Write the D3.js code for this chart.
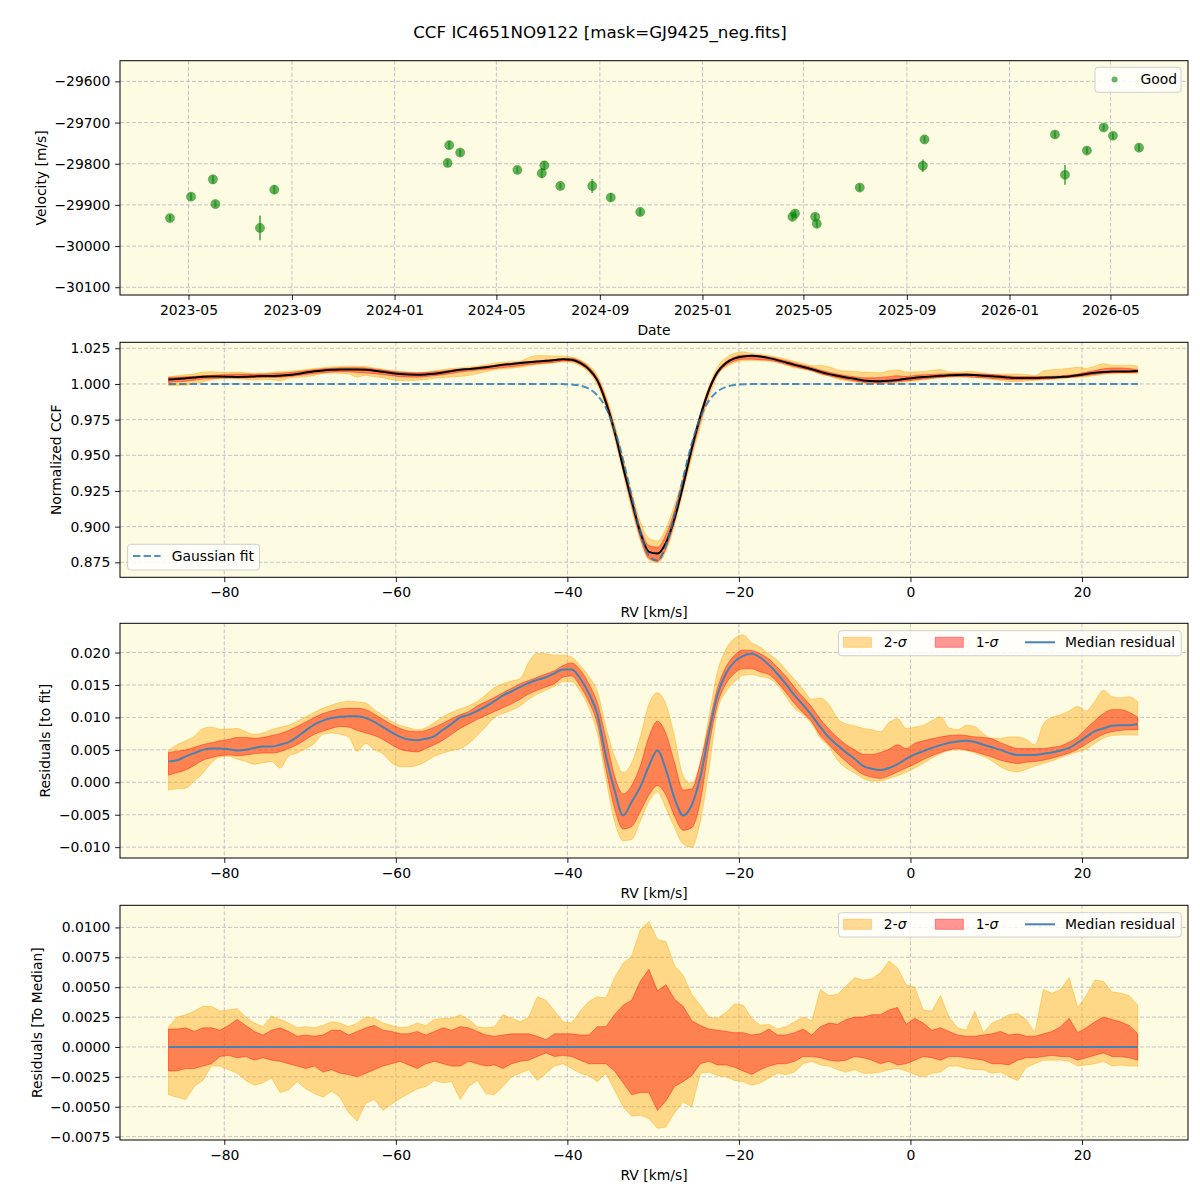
<!DOCTYPE html>
<html><head><meta charset="utf-8">
<script src="https://cdn.jsdelivr.net/npm/d3@7"></script>
<style>
body{margin:0;background:#fff;}
text{font-family:"DejaVu Sans",sans-serif;}
</style></head>
<body><svg id="c" width="1200" height="1200"></svg>
<script>
// ---------------- DATA ----------------
const obsDates = ["2023-04-09","2023-05-04","2023-05-30","2023-06-02","2023-07-25","2023-08-11",
  "2024-03-04","2024-03-06","2024-03-19","2024-05-26","2024-06-24","2024-06-27","2024-07-16",
  "2024-08-23","2024-09-14","2024-10-19","2025-04-18","2025-04-21","2025-05-15","2025-05-17",
  "2025-07-07","2025-09-20","2025-09-22","2026-02-24","2026-03-08","2026-04-03","2026-04-23",
  "2026-05-04","2026-06-04"];
const obsVel = [-29932,-29880,-29838,-29898,-29956,-29863,-29798,-29755,-29773,-29815,-29823,-29804,
  -29854,-29854,-29882,-29917,-29929,-29921,-29929,-29946,-29858,-29805,-29741,-29729,-29827,
  -29768,-29712,-29732,-29761];
const obsErr = [8,8,10,8,30,10,9,10,8,8,12,10,8,17,10,8,8,8,8,8,8,15,8,8,24,8,8,8,8];

const dateTicks = ["2023-05-01","2023-09-01","2024-01-01","2024-05-01","2024-09-01","2025-01-01",
  "2025-05-01","2025-09-01","2026-01-01","2026-05-01"];
const velTicks = [-30100,-30000,-29900,-29800,-29700,-29600];
const rvTicks = [-80,-60,-40,-20,0,20];
const ccfTicks = [0.875,0.900,0.925,0.950,0.975,1.000,1.025];
const resTicks = [-0.010,-0.005,0.000,0.005,0.010,0.015,0.020];
const medTicks = [-0.0075,-0.0050,-0.0025,0.0000,0.0025,0.0050,0.0075,0.0100];

const rv = [
-86.5,-85.5,-84.5,-83.5,-82.5,-81.5,-80.5,-79.5,-78.5,-77.5,
-76.5,-75.5,-74.5,-73.5,-72.5,-71.5,-70.5,-69.5,-68.5,-67.5,
-66.5,-65.5,-64.5,-63.5,-62.5,-61.5,-60.5,-59.5,-58.5,-57.5,
-56.5,-55.5,-54.5,-53.5,-52.5,-51.5,-50.5,-49.5,-48.5,-47.5,
-46.5,-45.5,-44.5,-43.5,-42.5,-41.5,-40.5,-39.5,-38.5,-37.5,
-36.5,-35.5,-34.5,-33.5,-32.5,-31.5,-30.5,-29.5,-28.5,-27.5,
-26.5,-25.5,-24.5,-23.5,-22.5,-21.5,-20.5,-19.5,-18.5,-17.5,
-16.5,-15.5,-14.5,-13.5,-12.5,-11.5,-10.5,-9.5,-8.5,-7.5,
-6.5,-5.5,-4.5,-3.5,-2.5,-1.5,-0.5,0.5,1.5,2.5,
3.5,4.5,5.5,6.5,7.5,8.5,9.5,10.5,11.5,12.5,
13.5,14.5,15.5,16.5,17.5,18.5,19.5,20.5,21.5,22.5,
23.5,24.5,25.5,26.5];

const gaussFit = [
1,1,1,1,1,1,1,1,1,1,
1,1,1,1,1,1,1,1,1,1,
1,1,1,1,1,1,1,1,1,1,
1,1,1,1,1,1,1,1,1,1,
1,1,1,1,1,1,.9999,.9996,.9988,.9967,
.9920,.9831,.9681,.9467,.9212,.8967,.8798,.8762,.8869,.9084,
.9342,.9582,.9764,.9882,.9948,.9979,.9993,.9998,.9999,1,
1,1,1,1,1,1,1,1,1,1,
1,1,1,1,1,1,1,1,1,1,
1,1,1,1,1,1,1,1,1,1,
1,1,1,1,1,1,1,1,1,1,
1,1,1,1];

const resMed = [
.0032,.0034,.0040,.0045,.0050,.0052,.0052,.0051,.0049,.0050,
.0053,.0055,.0055,.0058,.0062,.0070,.0080,.0089,.0095,.0099,
.0101,.0102,.0102,.0099,.0093,.0085,.0077,.0070,.0066,.0065,
.0067,.0071,.0081,.0090,.0100,.0104,.0110,.0117,.0125,.0134,
.0140,.0147,.0153,.0158,.0162,.0168,.0174,.0174,.0160,.0137,
.0105,.0040,-.0012,-.0051,-.0030,-.0007,.0025,.0049,.0019,-.0025,
-.0051,-.0035,.0008,.0075,.0135,.0168,.0186,.0195,.0198,.0192,
.0181,.0167,.0151,.0134,.0119,.0103,.0085,.0069,.0057,.0046,
.0036,.0025,.0021,.0019,.0022,.0028,.0036,.0043,.0048,.0053,
.0057,.0061,.0063,.0064,.0062,.0058,.0054,.0050,.0045,.0042,
.0042,.0042,.0044,.0046,.0049,.0053,.0061,.0070,.0079,.0083,
.0087,.0088,.0088,.0090];

const res1Hi = [
.0046,.0048,.0050,.0054,.0058,.0061,.0064,.0066,.0069,.0069,
.0068,.0069,.0072,.0075,.0080,.0086,.0093,.0100,.0106,.0110,
.0113,.0114,.0114,.0112,.0105,.0097,.0089,.0083,.0079,.0078,
.0080,.0085,.0091,.0098,.0104,.0109,.0118,.0124,.0131,.0138,
.0145,.0152,.0157,.0162,.0167,.0172,.0180,.0184,.0173,.0152,
.0122,.0068,.0010,-.0018,-.0005,.0025,.0070,.0094,.0075,.0030,
-.0012,-.0010,.0030,.0088,.0145,.0178,.0196,.0204,.0203,.0198,
.0190,.0177,.0163,.0146,.0131,.0116,.0097,.0082,.0069,.0058,
.0050,.0043,.0043,.0046,.0051,.0058,.0052,.0060,.0064,.0067,
.0070,.0072,.0073,.0072,.0070,.0069,.0067,.0061,.0056,.0052,
.0052,.0052,.0052,.0054,.0056,.0062,.0070,.0083,.0095,.0106,
.0112,.0112,.0108,.0100];

const res1Lo = [
.0011,.0015,.0019,.0026,.0034,.0038,.0041,.0042,.0041,.0042,
.0044,.0045,.0045,.0047,.0052,.0058,.0066,.0074,.0079,.0083,
.0086,.0085,.0080,.0076,.0072,.0066,.0058,.0051,.0048,.0047,
.0052,.0058,.0065,.0074,.0083,.0090,.0097,.0103,.0109,.0115,
.0121,.0128,.0136,.0142,.0147,.0152,.0162,.0164,.0148,.0124,
.0090,.0020,-.0040,-.0072,-.0068,-.0045,-.0020,-.0005,-.0020,-.0052,
-.0074,-.0070,-.0030,.0055,.0120,.0152,.0168,.0175,.0175,.0170,
.0166,.0154,.0138,.0121,.0107,.0093,.0072,.0058,.0044,.0032,
.0021,.0012,.0008,.0006,.0010,.0016,.0022,.0028,.0035,.0041,
.0046,.0050,.0052,.0050,.0047,.0043,.0039,.0034,.0031,.0029,
.0031,.0032,.0034,.0037,.0041,.0045,.0051,.0059,.0067,.0074,
.0078,.0080,.0081,.0081];

const res2Hi = [
.0049,.0058,.0064,.0071,.0083,.0085,.0082,.0082,.0083,.0078,
.0074,.0076,.0081,.0085,.0088,.0094,.0101,.0108,.0114,.0119,
.0123,.0125,.0124,.0122,.0112,.0103,.0094,.0088,.0084,.0081,
.0084,.0092,.0101,.0108,.0113,.0118,.0125,.0135,.0146,.0152,
.0156,.0160,.0185,.0199,.0198,.0196,.0196,.0193,.0180,.0163,
.0140,.0085,.0040,.0015,.0030,.0070,.0120,.0138,.0120,.0070,
.0010,-.0002,.0030,.0100,.0170,.0205,.0222,.0227,.0215,.0208,
.0198,.0188,.0173,.0158,.0143,.0128,.0130,.0120,.0098,.0090,
.0087,.0083,.0081,.0078,.0092,.0098,.0083,.0085,.0088,.0095,
.0101,.0084,.0081,.0088,.0086,.0075,.0068,.0068,.0070,.0070,
.0066,.0058,.0090,.0100,.0104,.0110,.0117,.0110,.0125,.0142,
.0132,.0130,.0132,.0124];

const res2Lo = [
-.0012,-.0010,-.0009,.0002,.0014,.0030,.0039,.0040,.0036,.0032,
.0028,.0030,.0032,.0022,.0040,.0045,.0052,.0060,.0074,.0076,
.0074,.0070,.0048,.0060,.0050,.0044,.0030,.0024,.0024,.0026,
.0032,.0040,.0045,.0049,.0052,.0060,.0072,.0086,.0100,.0106,
.0111,.0118,.0128,.0136,.0142,.0148,.0155,.0155,.0140,.0115,
.0075,.0005,-.0060,-.0090,-.0088,-.0060,-.0030,-.0015,-.0040,-.0070,
-.0095,-.0100,-.0060,.0020,.0110,.0140,.0155,.0165,.0166,.0163,
.0160,.0150,.0132,.0114,.0104,.0090,.0068,.0055,.0034,.0022,
.0014,.0006,.0002,.0002,.0006,.0010,.0015,.0022,.0029,.0037,
.0044,.0049,.0050,.0049,.0045,.0040,.0033,.0024,.0018,.0016,
.0020,.0025,.0029,.0033,.0038,.0043,.0047,.0051,.0060,.0068,
.0072,.0073,.0073,.0073];

const dev2Hi = [
.0017,.0025,.0027,.0030,.0034,.0034,.0030,.0031,.0032,.0025,
.0020,.0017,.0026,.0023,.0020,.0016,.0017,.0016,.0018,.0021,
.0020,.0017,.0020,.0025,.0024,.0020,.0018,.0016,.0017,.0020,
.0018,.0023,.0024,.0024,.0027,.0023,.0017,.0016,.0017,.0027,
.0024,.0021,.0025,.0042,.0039,.0030,.0021,.0020,.0030,.0038,
.0042,.0041,.0058,.0070,.0076,.0098,.0105,.0090,.0088,.0068,
.0060,.0044,.0035,.0025,.0024,.0029,.0036,.0035,.0024,.0018,
.0019,.0015,.0017,.0021,.0025,.0022,.0048,.0043,.0044,.0051,
.0058,.0056,.0057,.0062,.0072,.0066,.0052,.0050,.0031,.0030,
.0043,.0025,.0016,.0014,.0030,.0012,.0020,.0023,.0027,.0028,
.0023,.0012,.0048,.0045,.0048,.0058,.0033,.0043,.0056,.0055,
.0046,.0045,.0043,.0035];

const dev1Hi = [
.0015,.0015,.0016,.0013,.0016,.0016,.0014,.0018,.0023,.0018,
.0013,.0010,.0014,.0016,.0013,.0009,.0010,.0009,.0010,.0014,
.0014,.0010,.0013,.0016,.0018,.0014,.0013,.0011,.0011,.0013,
.0010,.0013,.0016,.0014,.0017,.0016,.0013,.0010,.0009,.0010,
.0011,.0011,.0011,.0009,.0006,.0011,.0011,.0011,.0010,.0010,
.0017,.0017,.0027,.0035,.0039,.0055,.0065,.0047,.0052,.0040,
.0034,.0022,.0018,.0015,.0014,.0013,.0012,.0012,.0010,.0011,
.0015,.0010,.0010,.0012,.0015,.0010,.0017,.0020,.0019,.0023,
.0025,.0025,.0027,.0027,.0031,.0033,.0019,.0024,.0020,.0014,
.0016,.0013,.0010,.0009,.0009,.0010,.0011,.0013,.0010,.0011,
.0009,.0009,.0011,.0013,.0017,.0024,.0012,.0016,.0021,.0025,
.0023,.0021,.0018,.0011];

const dev1Lo = [
-.0020,-.0020,-.0018,-.0018,-.0016,-.0014,-.0008,-.0007,-.0009,-.0008,
-.0011,-.0009,-.0011,-.0012,-.0014,-.0016,-.0018,-.0016,-.0021,-.0019,
-.0022,-.0023,-.0025,-.0022,-.0019,-.0016,-.0014,-.0012,-.0015,-.0018,
-.0014,-.0012,-.0014,-.0016,-.0016,-.0012,-.0014,-.0016,-.0015,-.0018,
-.0014,-.0012,-.0011,-.0008,-.0005,-.0008,-.0007,-.0008,-.0011,-.0014,
-.0014,-.0014,-.0020,-.0030,-.0040,-.0038,-.0038,-.0053,-.0045,-.0033,
-.0029,-.0024,-.0014,-.0012,-.0015,-.0015,-.0017,-.0020,-.0023,-.0019,
-.0016,-.0014,-.0014,-.0012,-.0008,-.0008,-.0009,-.0011,-.0012,-.0011,
-.0008,-.0009,-.0011,-.0014,-.0012,-.0015,-.0014,-.0011,-.0008,-.0009,
-.0011,-.0008,-.0008,-.0009,-.0010,-.0011,-.0014,-.0014,-.0015,-.0011,
-.0009,-.0009,-.0008,-.0007,-.0008,-.0008,-.0011,-.0009,-.0007,-.0005,
-.0008,-.0008,-.0009,-.0011];

const dev2Lo = [
-.0040,-.0042,-.0044,-.0033,-.0028,-.0016,-.0016,-.0019,-.0022,-.0028,
-.0032,-.0030,-.0026,-.0038,-.0036,-.0029,-.0035,-.0039,-.0042,-.0037,
-.0042,-.0055,-.0062,-.0047,-.0044,-.0053,-.0048,-.0043,-.0039,-.0035,
-.0033,-.0028,-.0030,-.0029,-.0044,-.0033,-.0028,-.0039,-.0040,-.0033,
-.0025,-.0022,-.0019,-.0028,-.0022,-.0016,-.0014,-.0018,-.0022,-.0024,
-.0029,-.0022,-.0036,-.0050,-.0058,-.0057,-.0060,-.0068,-.0067,-.0055,
-.0046,-.0050,-.0022,-.0021,-.0024,-.0025,-.0028,-.0029,-.0032,-.0030,
-.0026,-.0022,-.0023,-.0021,-.0014,-.0012,-.0015,-.0016,-.0019,-.0021,
-.0019,-.0022,-.0022,-.0021,-.0019,-.0018,-.0020,-.0023,-.0025,-.0022,
-.0021,-.0016,-.0016,-.0018,-.0019,-.0019,-.0022,-.0021,-.0025,-.0028,
-.0017,-.0014,-.0011,-.0011,-.0011,-.0012,-.0016,-.0015,-.0014,-.0012,
-.0016,-.0015,-.0016,-.0016];

// ---------------- LAYOUT ----------------
const svg = d3.select("#c");
const L = 120, R = 1188;
const BG = "#fdfbe1";
const FS = 13.9;
const GRID = "#b8b8c4";
const idx = d3.range(rv.length);
const parseD = d3.utcParse("%Y-%m-%d");

svg.append("rect").attr("width",1200).attr("height",1200).attr("fill","#fff");
svg.append("text").attr("x",600).attr("y",38).attr("text-anchor","middle")
  .attr("font-size",16.7).text("CCF IC4651NO9122 [mask=GJ9425_neg.fits]");

function panel(id, top, bottom, x, xt, xf, y, yt, yf, xlabel, ylabel, ylx) {
  const g = svg.append("g");
  g.append("rect").attr("x",L).attr("y",top).attr("width",R-L).attr("height",bottom-top).attr("fill",BG);
  g.selectAll(null).data(xt).join("line")
    .attr("x1",d=>x(d)).attr("x2",d=>x(d)).attr("y1",top).attr("y2",bottom)
    .attr("stroke",GRID).attr("stroke-width",0.8).attr("stroke-dasharray","4,2");
  g.selectAll(null).data(yt).join("line")
    .attr("x1",L).attr("x2",R).attr("y1",d=>y(d)).attr("y2",d=>y(d))
    .attr("stroke",GRID).attr("stroke-width",0.8).attr("stroke-dasharray","4,2");
  svg.append("clipPath").attr("id","clip"+id).append("rect")
    .attr("x",L).attr("y",top).attr("width",R-L).attr("height",bottom-top);
  const plot = g.append("g").attr("clip-path",`url(#clip${id})`);
  const xa = g.append("g").attr("transform",`translate(0,${bottom})`)
    .call(d3.axisBottom(x).tickValues(xt).tickFormat(xf).tickSize(4.86).tickPadding(4.86));
  const ya = g.append("g").attr("transform",`translate(${L},0)`)
    .call(d3.axisLeft(y).tickValues(yt).tickFormat(yf).tickSize(4.86).tickPadding(4.86));
  [xa,ya].forEach(a=>{
    a.select(".domain").remove();
    a.attr("font-size",FS).attr("font-family","DejaVu Sans");
    a.selectAll("line").attr("stroke","#000").attr("stroke-width",0.9);
    a.selectAll("text").attr("fill","#000");
  });
  g.append("text").attr("x",(L+R)/2).attr("y",bottom+40).attr("text-anchor","middle")
    .attr("font-size",FS).text(xlabel);
  g.append("text").attr("transform",`translate(${ylx},${(top+bottom)/2}) rotate(-90)`)
    .attr("text-anchor","middle").attr("dominant-baseline","central")
    .attr("font-size",FS).text(ylabel);
  const frame = () => g.append("rect").attr("x",L).attr("y",top).attr("width",R-L)
    .attr("height",bottom-top).attr("fill","none").attr("stroke","#000").attr("stroke-width",1);
  return {g, plot, frame};
}

function legendBox(g, x0, y0, x1, y1) {
  g.append("rect").attr("x",x0).attr("y",y0).attr("width",x1-x0).attr("height",y1-y0)
    .attr("rx",3).attr("fill","#fff").attr("fill-opacity",0.8).attr("stroke","#d0d0d0").attr("stroke-width",1);
}

// ---------------- PANEL 1 ----------------
const xT = d3.scaleUtc().domain([new Date(Date.UTC(2023,1,8,14)), new Date(Date.UTC(2026,7,1,5))]).range([L,R]);
const y1 = d3.scaleLinear().domain([-30118.8,-29549.8]).range([295,60.7]);
const p1 = panel(1, 60.7, 295, xT, dateTicks.map(parseD), d3.utcFormat("%Y-%m"), y1, velTicks, d3.format("d"),
  "Date", "Velocity [m/s]", 41);
const obs = obsDates.map((d,i)=>({t:parseD(d), v:obsVel[i], e:obsErr[i]}));
p1.plot.selectAll(null).data(obs).join("line")
  .attr("x1",d=>xT(d.t)).attr("x2",d=>xT(d.t)).attr("y1",d=>y1(d.v-d.e)).attr("y2",d=>y1(d.v+d.e))
  .attr("stroke","#008000").attr("stroke-opacity",0.55).attr("stroke-width",2);
p1.plot.selectAll(null).data(obs).join("circle")
  .attr("cx",d=>xT(d.t)).attr("cy",d=>y1(d.v)).attr("r",4.6)
  .attr("fill","#008000").attr("fill-opacity",0.6).attr("stroke","#008000").attr("stroke-opacity",0.3);
p1.frame();
legendBox(p1.g, 1095, 67.3, 1181, 92.3);
p1.g.append("circle").attr("cx",1114.6).attr("cy",79.5).attr("r",3).attr("fill","#008000").attr("fill-opacity",0.6);
p1.g.append("text").attr("x",1140.5).attr("y",84).attr("font-size",FS).text("Good");

// ---------------- PANEL 2 ----------------
const xR = d3.scaleLinear().domain([-92.16,32.36]).range([L,R]);
const y2 = d3.scaleLinear().domain([0.8645,1.0292]).range([577.3,342.3]);
const p2 = panel(2, 342.3, 577.3, xR, rvTicks, d3.format("d"), y2, ccfTicks, d3.format(".3f"),
  "RV [km/s]", "Normalized CCF", 56);
const curve = d3.curveMonotoneX;
function band(plot, x, y, lo, hi, color, cv) {
  plot.append("path").datum(idx)
    .attr("d", d3.area().curve(cv).x(i=>x(rv[i])).y0(i=>y(lo(i))).y1(i=>y(hi(i))))
    .attr("fill",color).attr("fill-opacity",0.4).attr("stroke",color).attr("stroke-opacity",0.4).attr("stroke-width",1);
}
function lineOf(plot, x, y, f, color, w, cv, dash, op) {
  const p = plot.append("path").datum(idx)
    .attr("d", d3.line().curve(cv).x(i=>x(rv[i])).y(i=>y(f(i))))
    .attr("fill","none").attr("stroke",color).attr("stroke-width",w).attr("stroke-opacity",op||1);
  if (dash) p.attr("stroke-dasharray",dash);
}
band(p2.plot, xR, y2, i=>gaussFit[i]+res2Lo[i], i=>gaussFit[i]+res2Hi[i], "#ffa500", curve);
band(p2.plot, xR, y2, i=>gaussFit[i]+res1Lo[i], i=>gaussFit[i]+res1Hi[i], "#ff0000", curve);
lineOf(p2.plot, xR, y2, i=>gaussFit[i]+resMed[i], "#000", 2, curve);
lineOf(p2.plot, xR, y2, i=>gaussFit[i], "#1f77b4", 2, curve, "7.4,3.2", 0.8);
p2.frame();
legendBox(p2.g, 127.6, 544.3, 259.5, 570);
p2.g.append("line").attr("x1",133).attr("x2",160.6).attr("y1",556).attr("y2",556)
  .attr("stroke","#1f77b4").attr("stroke-opacity",0.8).attr("stroke-width",2).attr("stroke-dasharray","7.4,3.2");
p2.g.append("text").attr("x",171.7).attr("y",561).attr("font-size",FS).text("Gaussian fit");

// ---------------- PANEL 3 ----------------
const y3 = d3.scaleLinear().domain([-0.01167,0.02451]).range([858,623.3]);
const p3 = panel(3, 623.3, 858, xR, rvTicks, d3.format("d"), y3, resTicks, d3.format(".3f"),
  "RV [km/s]", "Residuals [to fit]", 45);
band(p3.plot, xR, y3, i=>res2Lo[i], i=>res2Hi[i], "#ffa500", curve);
band(p3.plot, xR, y3, i=>res1Lo[i], i=>res1Hi[i], "#ff0000", curve);
lineOf(p3.plot, xR, y3, i=>resMed[i], "#4682b4", 2, curve);
p3.frame();

function sigmaLegend(g, y0, y1) {
  legendBox(g, 838.5, y0, 1181.2, y1);
  const pt = y0 + 6.6, ph = 10, cy = pt + ph/2;
  g.append("rect").attr("x",843.4).attr("y",pt).attr("width",28).attr("height",ph)
    .attr("fill","#ffa500").attr("fill-opacity",0.4).attr("stroke","#ffa500").attr("stroke-opacity",0.4);
  g.append("rect").attr("x",935.3).attr("y",pt).attr("width",28).attr("height",ph)
    .attr("fill","#ff0000").attr("fill-opacity",0.4).attr("stroke","#ff0000").attr("stroke-opacity",0.4);
  g.append("line").attr("x1",1025).attr("x2",1055).attr("y1",cy).attr("y2",cy)
    .attr("stroke","#4682b4").attr("stroke-width",2);
  const t1 = g.append("text").attr("x",883.8).attr("y",cy+5).attr("font-size",FS);
  t1.append("tspan").text("2-"); t1.append("tspan").attr("font-style","italic").text("σ");
  const t2 = g.append("text").attr("x",975.7).attr("y",cy+5).attr("font-size",FS);
  t2.append("tspan").text("1-"); t2.append("tspan").attr("font-style","italic").text("σ");
  g.append("text").attr("x",1065.1).attr("y",cy+5).attr("font-size",FS).text("Median residual");
}
sigmaLegend(p3.g, 630.7, 655.7);

// ---------------- PANEL 4 ----------------
const y4 = d3.scaleLinear().domain([-0.00778,0.01185]).range([1140,905.3]);
const p4 = panel(4, 905.3, 1140, xR, rvTicks, d3.format("d"), y4, medTicks, d3.format(".4f"),
  "RV [km/s]", "Residuals [To Median]", 37);
band(p4.plot, xR, y4, i=>dev2Lo[i], i=>dev2Hi[i], "#ffa500", d3.curveLinear);
band(p4.plot, xR, y4, i=>dev1Lo[i], i=>dev1Hi[i], "#ff0000", d3.curveLinear);
lineOf(p4.plot, xR, y4, i=>0*rv[i], "#4682b4", 2, d3.curveLinear);
p4.frame();
sigmaLegend(p4.g, 912.7, 937);
</script>
</body></html>
